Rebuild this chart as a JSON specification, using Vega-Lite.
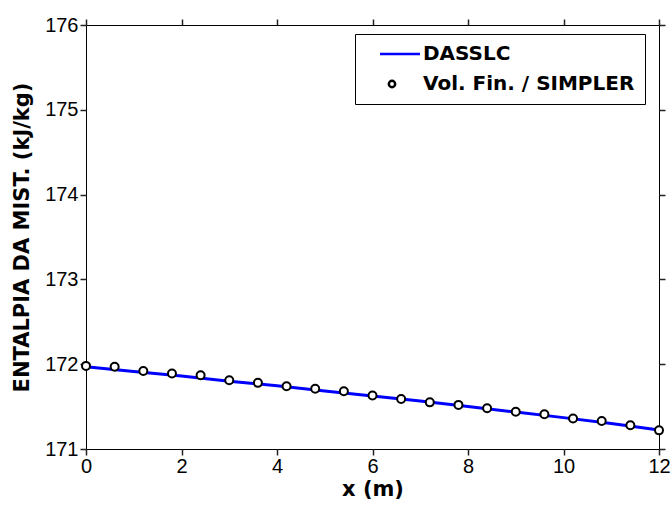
{
  "$schema": "https://vega.github.io/schema/vega-lite/v6.json",
  "autosize": "none",
  "width": 573,
  "height": 424,
  "padding": {"left": 86, "top": 25, "right": 13, "bottom": 58},
  "background": "white",
  "config": {
    "view": {"stroke": "black", "strokeWidth": 1},
    "axis": {
      "labelFont": "Liberation Sans",
      "labelFontSize": 20,
      "labelColor": "black",
      "labelFlush": false,
      "labelOverlap": false,
      "titleFont": "DejaVu Sans",
      "titleFontWeight": "bold",
      "titleFontSize": 21,
      "titleColor": "black",
      "grid": false,
      "domain": false,
      "ticks": true,
      "tickColor": "#222222",
      "tickWidth": 1.5,
      "tickSize": 6,
      "labelPadding": 3
    }
  },
  "datasets": {
    "dasslc": [
      {"series": "DASSLC", "x": 0, "y": 171.97},
      {"series": "DASSLC", "x": 1, "y": 171.915},
      {"series": "DASSLC", "x": 2, "y": 171.86},
      {"series": "DASSLC", "x": 3, "y": 171.8},
      {"series": "DASSLC", "x": 4, "y": 171.745},
      {"series": "DASSLC", "x": 5, "y": 171.685},
      {"series": "DASSLC", "x": 6, "y": 171.625},
      {"series": "DASSLC", "x": 7, "y": 171.565},
      {"series": "DASSLC", "x": 8, "y": 171.5},
      {"series": "DASSLC", "x": 9, "y": 171.435},
      {"series": "DASSLC", "x": 10, "y": 171.37},
      {"series": "DASSLC", "x": 11, "y": 171.3},
      {"series": "DASSLC", "x": 12, "y": 171.225}
    ],
    "simpler": [
      {"series": "Vol. Fin. / SIMPLER", "x": 0, "y": 171.98},
      {"series": "Vol. Fin. / SIMPLER", "x": 0.6, "y": 171.97},
      {"series": "Vol. Fin. / SIMPLER", "x": 1.2, "y": 171.92},
      {"series": "Vol. Fin. / SIMPLER", "x": 1.8, "y": 171.89},
      {"series": "Vol. Fin. / SIMPLER", "x": 2.4, "y": 171.87},
      {"series": "Vol. Fin. / SIMPLER", "x": 3.0, "y": 171.81},
      {"series": "Vol. Fin. / SIMPLER", "x": 3.6, "y": 171.78},
      {"series": "Vol. Fin. / SIMPLER", "x": 4.2, "y": 171.74},
      {"series": "Vol. Fin. / SIMPLER", "x": 4.8, "y": 171.71},
      {"series": "Vol. Fin. / SIMPLER", "x": 5.4, "y": 171.68},
      {"series": "Vol. Fin. / SIMPLER", "x": 6.0, "y": 171.63},
      {"series": "Vol. Fin. / SIMPLER", "x": 6.6, "y": 171.59},
      {"series": "Vol. Fin. / SIMPLER", "x": 7.2, "y": 171.55},
      {"series": "Vol. Fin. / SIMPLER", "x": 7.8, "y": 171.52},
      {"series": "Vol. Fin. / SIMPLER", "x": 8.4, "y": 171.48},
      {"series": "Vol. Fin. / SIMPLER", "x": 9.0, "y": 171.44},
      {"series": "Vol. Fin. / SIMPLER", "x": 9.6, "y": 171.41},
      {"series": "Vol. Fin. / SIMPLER", "x": 10.2, "y": 171.36},
      {"series": "Vol. Fin. / SIMPLER", "x": 10.8, "y": 171.33},
      {"series": "Vol. Fin. / SIMPLER", "x": 11.4, "y": 171.28},
      {"series": "Vol. Fin. / SIMPLER", "x": 12, "y": 171.22}
    ]
  },
  "layer": [
    {
      "data": {"name": "dasslc"},
      "mark": {"type": "line", "strokeWidth": 3},
      "encoding": {
        "x": {
          "field": "x", "type": "quantitative",
          "scale": {"domain": [0, 12], "nice": false},
          "axis": {"title": "x (m)", "orient": "bottom", "values": [0, 2, 4, 6, 8, 10, 12], "titlePadding": 2, "labelPadding": 1}
        },
        "y": {
          "field": "y", "type": "quantitative",
          "scale": {"domain": [171, 176], "zero": false, "nice": false},
          "axis": {"title": "ENTALPIA DA MIST. (kJ/kg)", "orient": "left", "values": [171, 172, 173, 174, 175, 176], "titlePadding": 12, "labelPadding": 2}
        },
        "color": {
          "field": "series", "type": "nominal",
          "scale": {"domain": ["DASSLC", "Vol. Fin. / SIMPLER"], "range": ["#0000ff", "#000000"]},
          "legend": {
            "title": null,
            "orient": "none",
            "legendX": 269,
            "legendY": 9,
            "strokeColor": "black",
            "fillColor": "white",
            "padding": 10,
            "labelFont": "DejaVu Sans",
            "labelFontWeight": "bold",
            "labelFontSize": 20,
            "labelColor": "black",
            "labelLimit": 400,
            "symbolSize": 40,
            "symbolStrokeWidth": 2.5,
            "rowPadding": 10,
            "labelOffset": 38,
            "encode": {
              "symbols": {
                "update": {
                  "size": {"signal": "datum.value === 'DASSLC' ? 1600 : 40"},
                  "x": {"signal": "datum.value === 'DASSLC' ? 35 : 27"}
                }
              }
            }
          }
        }
      }
    },
    {
      "data": {"name": "simpler"},
      "mark": {"type": "point", "filled": false, "fill": "white", "strokeWidth": 2, "size": 64, "opacity": 1},
      "encoding": {
        "x": {
          "field": "x", "type": "quantitative",
          "axis": {"orient": "top", "labels": false, "title": null, "values": [0, 2, 4, 6, 8, 10, 12]}
        },
        "y": {
          "field": "y", "type": "quantitative",
          "axis": {"orient": "right", "labels": false, "title": null, "values": [171, 172, 173, 174, 175, 176]}
        },
        "color": {"field": "series", "type": "nominal"},
        "shape": {
          "field": "series", "type": "nominal",
          "scale": {"domain": ["DASSLC", "Vol. Fin. / SIMPLER"], "range": ["stroke", "circle"]}
        }
      }
    }
  ],
  "resolve": {"axis": {"x": "independent", "y": "independent"}}
}
